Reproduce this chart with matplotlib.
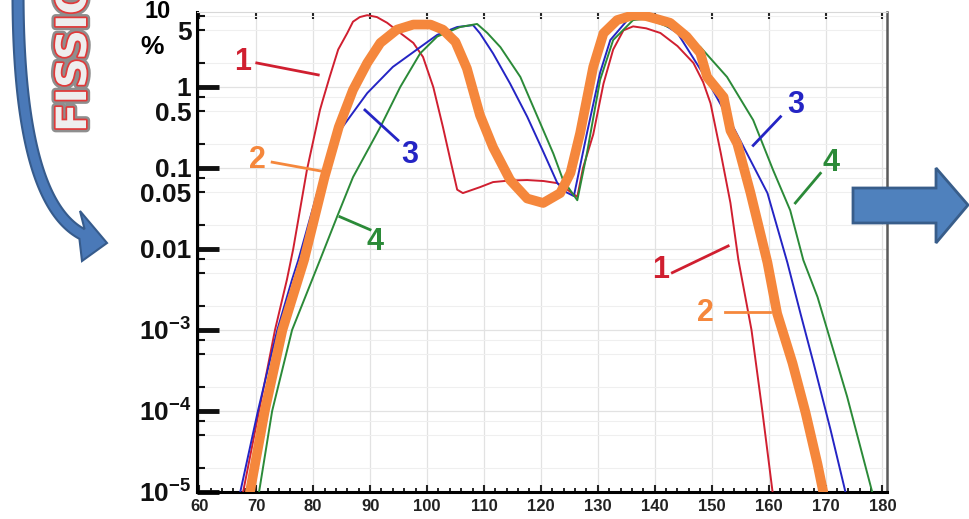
import numpy as np
import matplotlib
matplotlib.use("Agg")
import matplotlib.pyplot as plt
import matplotlib.patheffects as pe
from matplotlib.ticker import FixedLocator, LogLocator, MultipleLocator, FuncFormatter
from matplotlib.patches import Polygon

plt.rcParams['font.family'] = ['Liberation Sans', 'DejaVu Sans']
plt.rcParams['font.weight'] = 'bold'
plt.rcParams['mathtext.fontset'] = 'custom'
plt.rcParams['mathtext.rm'] = 'Liberation Sans'
plt.rcParams['mathtext.bf'] = 'Liberation Sans:bold'

# mass number A and fission yield (%)
a1 = [67.7, 70.5, 73.3, 75.4, 76.5, 78.9, 81.2, 81.7, 82.9, 84.4, 86.0, 87.0, 88.2, 89.5, 91.2,
      93.0, 95.3, 97.6, 99.3, 101.1, 102.8, 104.1, 105.3, 106.3, 109.3, 111.6, 114.5, 117.6,
      120.5, 122.9, 124.5, 126.4, 127.4, 129.2, 131.0, 132.7, 134.5, 136.2, 138.5, 141.0, 144.0,
      146.8, 148.5, 149.8, 151.6, 153.3, 154.7, 157.0, 158.9, 160.7]
y1 = [1e-5, 1e-4, 1e-3, 0.0042, 0.01, 0.094, 0.52, 0.69, 1.33, 2.9, 4.64, 6.4, 7.3, 7.7, 7.3,
      6.2, 4.64, 3.5, 2.35, 1.0, 0.32, 0.126, 0.054, 0.049, 0.058, 0.067, 0.07, 0.071,
      0.069, 0.065, 0.055, 0.044, 0.1, 0.26, 1.1, 2.9, 5.0, 5.6, 5.3, 4.64, 3.2,
      1.98, 1.15, 0.63, 0.153, 0.037, 0.0073, 1e-3, 1e-4, 1e-5]

a2 = [68.9, 71.5, 74.6, 78.4, 82.0, 84.5, 87.0, 89.5, 91.8, 94.7, 97.6, 100.6, 102.8,
      105.0, 107.0, 109.3, 111.6, 114.6, 117.6, 120.4, 123.4, 125.2, 126.9, 129.2, 131.0, 133.4,
      136.2, 138.5, 141.0, 142.7, 145.6, 148.0, 149.2, 152.1, 153.3, 154.5, 156.8, 159.8, 161.5,
      164.2, 166.5, 168.6, 169.6]
y2 = [1e-5, 1e-4, 1e-3, 0.0073, 0.077, 0.32, 0.92, 1.98, 3.5, 5.1, 5.9, 5.9, 5.1,
      3.6, 1.7, 0.45, 0.18, 0.071, 0.042, 0.037, 0.049, 0.087, 0.27, 1.77, 4.6, 6.7,
      7.7, 7.5, 6.7, 6.2, 4.2, 2.63, 1.33, 0.75, 0.29, 0.2, 0.05, 0.0068, 0.0016,
      3.9e-4, 9.5e-5, 2.2e-5, 1e-5]

a3 = [67.2, 70.3, 73.7, 76.3, 77.4, 80.7, 84.7, 89.5, 94.0, 98.8, 101.8, 105.3, 108.1, 109.3,
      111.6, 114.6, 117.6, 120.4, 122.9, 124.5, 125.8, 128.1, 130.4, 132.2, 135.2, 137.5, 141.0,
      144.0, 149.2, 153.8, 159.8, 163.3, 165.6, 167.9, 170.9, 173.5]
y3 = [1e-5, 1e-4, 1e-3, 0.0042, 0.0073, 0.049, 0.29, 0.84, 1.77, 3.1, 4.4, 5.5, 5.8, 4.6,
      2.6, 1.1, 0.43, 0.16, 0.065, 0.05, 0.045, 0.27, 1.5, 3.8, 6.7, 7.2, 6.3,
      4.64, 1.22, 0.32, 0.049, 0.0068, 0.0016, 3.9e-4, 5.8e-5, 1e-5]

a4 = [70.5, 72.8, 76.3, 81.2, 84.2, 87.0, 91.8, 95.3, 98.8, 101.8, 105.8, 108.8, 110.6,
      112.9, 116.4, 119.4, 122.2, 123.9, 126.4, 128.1, 130.4, 132.7, 136.2, 138.7, 143.3, 148.0,
      152.7, 157.3, 160.8, 163.8, 166.1, 168.6, 173.8, 178.2]
y4 = [1e-5, 1e-4, 1e-3, 0.0073, 0.025, 0.077, 0.32, 1.0, 2.6, 4.2, 5.5, 6.0, 4.64,
      3.1, 1.33, 0.43, 0.15, 0.071, 0.04, 0.153, 1.22, 3.8, 6.7, 7.0, 5.2, 3.12,
      1.33, 0.39, 0.094, 0.03, 0.0073, 0.00255, 1.5e-4, 1e-5]

curve_labels = ['1', '2', '3', '4']

c_red = '#d01f30'
c_orange = '#f5873c'
c_blue = '#2424c4'
c_green = '#2b8a38'

fig = plt.figure(figsize=(9.69, 5.19), dpi=100)
ax = fig.add_axes([197 / 969, 1 - 492 / 519, 690 / 969, 480 / 519])

ax.plot(a1, y1, color=c_red, lw=1.4, zorder=3)
ax.plot(a3, y3, color=c_blue, lw=1.4, zorder=3)
ax.plot(a4, y4, color=c_green, lw=1.4, zorder=3)
ax.plot(a2, y2, color=c_orange, lw=7, zorder=4, solid_capstyle='round', solid_joinstyle='round')

ax.set_yscale('log')
ax.set_xlim(59.6, 180.8)
ax.set_ylim(1e-5, 8.43)

# numbered callouts: (label position, line start, line end)
callouts = [
    (c_red, curve_labels[0], (67.7, 2.04), (70.1, 1.98), (80.9, 1.41)),
    (c_orange, curve_labels[1], (70.3, 0.126), (72.8, 0.118), (82.4, 0.089)),
    (c_blue, curve_labels[2], (97.0, 0.145), (89.1, 0.52), (94.9, 0.22)),
    (c_green, curve_labels[3], (90.9, 0.0122), (84.7, 0.025), (90.0, 0.0173)),
    (c_red, curve_labels[0], (141.0, 0.0055), (143.1, 0.0051), (152.9, 0.0109)),
    (c_orange, curve_labels[1], (148.9, 0.00162), (152.4, 0.00168), (160.3, 0.00168)),
    (c_blue, curve_labels[2], (164.7, 0.60), (157.3, 0.19), (162.1, 0.43)),
    (c_green, curve_labels[3], (170.9, 0.115), (164.7, 0.037), (169.1, 0.086)),
]
for col, txt, tp, p0, p1 in callouts:
    ax.plot([p0[0], p1[0]], [p0[1], p1[1]], color=col, lw=2, zorder=5)
    ax.text(tp[0], tp[1], txt, color=col, fontsize=22, ha='center', va='center', zorder=5)

# axes styling
ax.xaxis.set_major_locator(MultipleLocator(10))
ax.xaxis.set_minor_locator(MultipleLocator(2))
ax.yaxis.set_major_locator(FixedLocator([1e-5, 1e-4, 1e-3, 1e-2, 1e-1, 1]))
ax.yaxis.set_minor_locator(LogLocator(base=10, subs=(2, 5, 7.5)))


def ymajor(v, pos):
    e = int(round(np.log10(v)))
    if e <= -3:
        return r'$\mathbf{10^{%d}}$' % e
    return {-2: '0.01', -1: '0.1', 0: '1'}[e]


def yminor(v, pos):
    m = v / 10 ** np.floor(np.log10(v) + 1e-9)
    if abs(m - 5) < 0.01 and v > 0.01:
        return '%g' % v
    return ''


ax.yaxis.set_major_formatter(FuncFormatter(ymajor))
ax.yaxis.set_minor_formatter(FuncFormatter(yminor))

ax.tick_params(axis='y', which='major', direction='in', length=16, width=3.5, pad=4,
               labelsize=19, colors='#111111')
ax.tick_params(axis='y', which='minor', direction='in', length=6, width=1.5, pad=4,
               labelsize=19, colors='#111111')
ax.tick_params(axis='x', which='major', direction='in', length=5, width=1.5, top=True,
               pad=5, labelsize=12, colors='#222222')
ax.tick_params(axis='x', which='minor', direction='in', length=3, width=1.2)

ax.grid(True, which='major', color='#e2e2e2', lw=0.9)
ax.grid(True, axis='y', which='minor', color='#efefef', lw=0.8)
ax.set_axisbelow(True)

ax.spines['left'].set_linewidth(2.2)
ax.spines['bottom'].set_linewidth(2.2)
ax.spines['right'].set_linewidth(1.8)
ax.spines['right'].set_color('#5a5a5a')
ax.spines['top'].set_linewidth(0.8)
ax.spines['top'].set_color('#d8d8d8')

fig.text(152 / 969, 1 - 47 / 519, '%', ha='center', va='center', fontsize=19)
fig.text(158 / 969, 1 - 11 / 519, '10', ha='center', va='center', fontsize=17)

# decorative overlay: arrows and title fragment
ov = fig.add_axes([0, 0, 1, 1], zorder=5)
ov.set_xlim(0, 969)
ov.set_ylim(519, 0)
ov.axis('off')
ov.patch.set_alpha(0)

t = np.linspace(0, 1, 60)[:, None]
P0, P1, P2 = np.array([18, -8]), np.array([18, 200]), np.array([82, 234])
B = (1 - t) ** 2 * P0 + 2 * t * (1 - t) * P1 + t ** 2 * P2
T = 2 * (1 - t) * (P1 - P0) + 2 * t * (P2 - P1)
N = np.column_stack([-T[:, 1], T[:, 0]]) / np.linalg.norm(T, axis=1)[:, None]
outer = B + 5.5 * N
inner = B - 5.5 * N
shape = np.vstack([outer, [[82, 261], [107, 243], [80, 211]], inner[::-1]])
ov.add_patch(Polygon(shape, closed=True, fc='#4a79b8', ec='#365b8c', lw=1.5))

ov.add_patch(Polygon([(853, 188), (936, 188), (936, 168), (968, 205), (936, 243),
                      (936, 223), (853, 223)], closed=True, fc='#4f81bd', ec='#385d8a', lw=2))

fig.text(74 / 969, 1 - 132 / 519, 'FISSION', rotation=90, ha='center', va='bottom',
         fontsize=30, family='DejaVu Sans', weight='bold', color='#eeeeee', zorder=6,
         path_effects=[pe.Stroke(linewidth=6, foreground='#8e8e8e'),
                       pe.Stroke(linewidth=2.5, foreground='#e03a3a'),
                       pe.Normal()])

fig.savefig('out.png', dpi=100)
